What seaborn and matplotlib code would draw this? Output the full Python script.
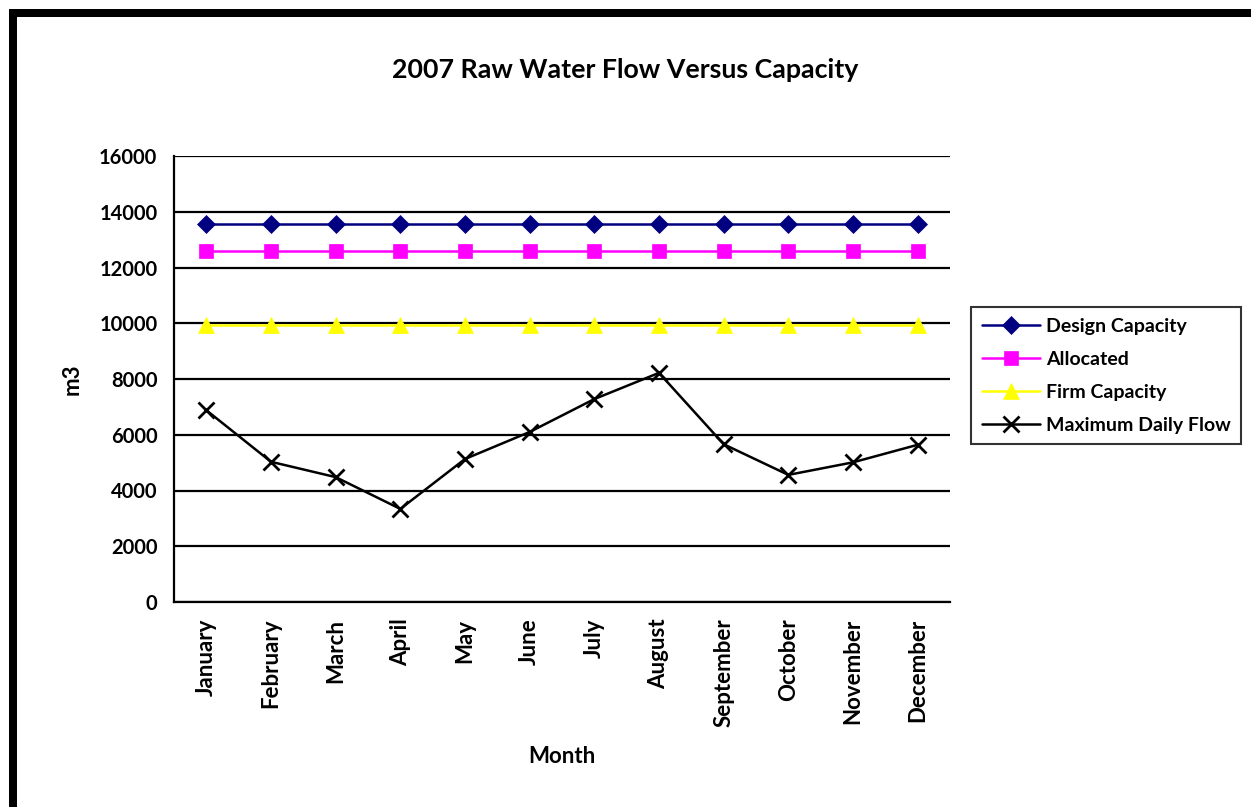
import matplotlib
matplotlib.use('Agg')
import matplotlib.pyplot as plt
from matplotlib.patches import Rectangle
import seaborn as sns
import pandas as pd

months = ['January', 'February', 'March', 'April', 'May', 'June', 'July',
          'August', 'September', 'October', 'November', 'December']
design_capacity = [13560] * 12
allocated = [12600] * 12
firm_capacity = [9950] * 12
max_daily_flow = [6880, 5030, 4480, 3340, 5130, 6100, 7280, 8220, 5660, 4560, 5010, 5640]

sns.set_style('white')
plt.rcParams['font.family'] = ['Lato', 'DejaVu Sans']
plt.rcParams['font.weight'] = 'bold'
plt.rcParams['text.color'] = 'black'
plt.rcParams['axes.labelcolor'] = 'black'
plt.rcParams['xtick.color'] = 'black'
plt.rcParams['ytick.color'] = 'black'

fig = plt.figure(figsize=(12.51, 8.07), dpi=100)
ax = fig.add_axes([174 / 1251, 1 - 602 / 807, 776 / 1251, 446 / 807])

series = [
    ('Design Capacity', design_capacity, '#000080', 'D', 9),
    ('Allocated', allocated, '#FF00FF', 's', 10),
    ('Firm Capacity', firm_capacity, '#FFFF00', '^', 11),
    ('Maximum Daily Flow', max_daily_flow, 'black', 'x', 11),
]
for name, vals, col, mk, ms in series:
    df = pd.DataFrame({'Month': months, 'm3': vals})
    sns.lineplot(data=df, x='Month', y='m3', ax=ax, color=col, lw=1.8,
                 marker=mk, markersize=ms, markeredgecolor=col,
                 markeredgewidth=2 if mk == 'x' else 0.5, label=name, zorder=3)

ax.set_xlim(-0.5, 11.5)
ax.set_ylim(0, 16000)
ax.set_yticks(range(0, 16001, 2000))
ax.grid(axis='y', color='black', lw=1.6)
ax.grid(axis='x', visible=False)
for s in ['top', 'right']:
    ax.spines[s].set_visible(False)
for s in ['left', 'bottom']:
    ax.spines[s].set_color('black')
    ax.spines[s].set_linewidth(1.6)

ax.set_xticks(range(12))
ax.set_xticklabels(months, rotation=90, fontsize=16, fontweight='bold')
ax.set_xticks([i - 0.5 for i in range(13)], minor=True)
ax.tick_params(axis='x', which='major', length=0, pad=12)
ax.tick_params(axis='x', which='minor', length=6, width=1.6, color='black', direction='out')
ax.tick_params(axis='y', length=6, width=1.6, color='black', direction='out', pad=6, labelsize=14.5)
for t in ax.get_yticklabels():
    t.set_fontweight('bold')

ax.set_xlabel('Month', fontsize=16, fontweight='bold')
ax.set_ylabel('m3', fontsize=16, fontweight='bold')
ax.xaxis.set_label_coords(0.5, -0.322)
ax.yaxis.set_label_coords(-0.118, 0.5)

fig.text(0.5, 1 - 70 / 807, '2007 Raw Water Flow Versus Capacity',
         ha='center', va='center', fontsize=19.3, fontweight='bold')

leg = ax.legend(loc='upper left', bbox_to_anchor=(971 / 1251, 1 - 307 / 807),
                bbox_transform=fig.transFigure, frameon=True, fancybox=False,
                edgecolor='black', fontsize=14, handlelength=3, labelspacing=0.82,
                borderpad=0.55, handletextpad=0.3, borderaxespad=0)
leg.get_frame().set_linewidth(1.5)
for t in leg.get_texts():
    t.set_fontweight('bold')

# black frame around the chart area (left and top edges)
fig.add_artist(Rectangle((9 / 1251, 0), 8 / 1251, 1 - 9 / 807, transform=fig.transFigure,
                         color='black', lw=0))
fig.add_artist(Rectangle((9 / 1251, 1 - 17 / 807), 1, 8 / 807, transform=fig.transFigure,
                         color='black', lw=0))

fig.savefig('out.png', dpi=100)
